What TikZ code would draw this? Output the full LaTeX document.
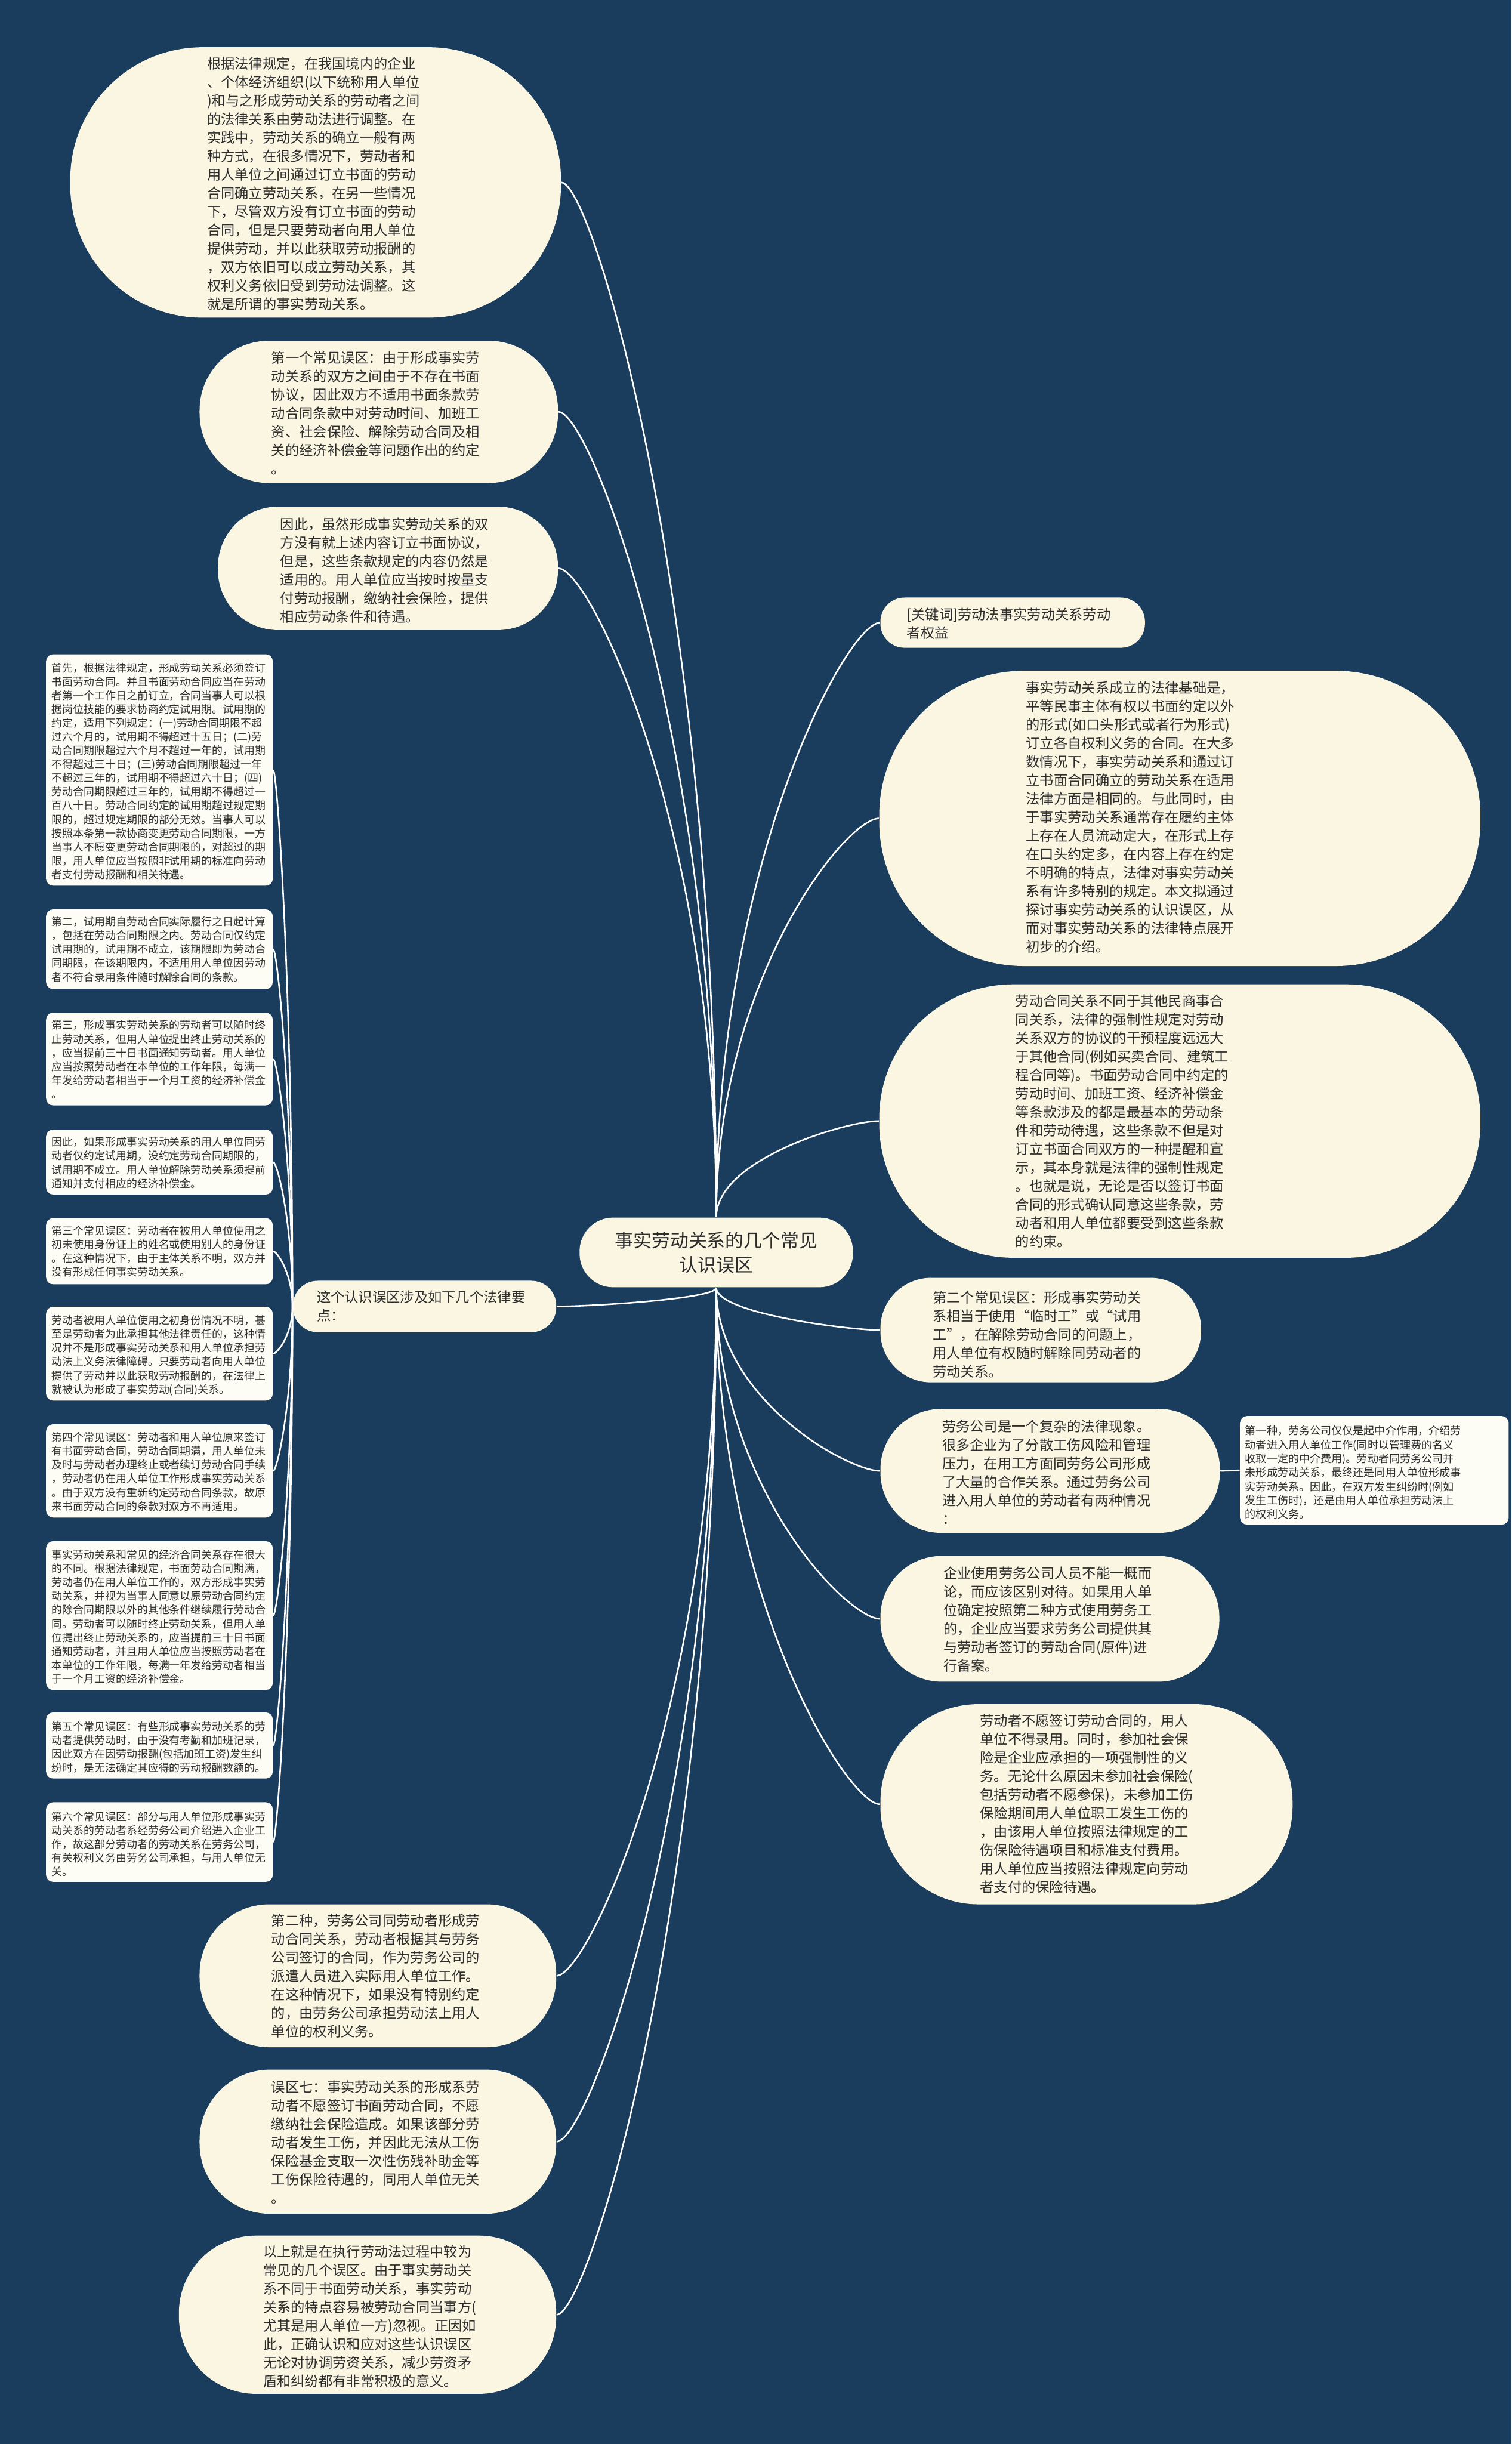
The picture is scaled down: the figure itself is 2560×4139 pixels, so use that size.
\documentclass[tikz,border=0pt]{standalone}
\usepackage{fontspec}
\newfontfamily\cjk{Noto Sans CJK SC}
\usetikzlibrary{calc}
\definecolor{bgc}{RGB}{26,60,93}
\definecolor{creamc}{RGB}{250,246,226}
\definecolor{boxc}{RGB}{253,253,246}
\definecolor{txtc}{RGB}{45,45,45}
\newcommand\myconn[2]{\draw[conn] let \p1=(#1), \p2=(#2) in (\p1) .. controls (\x1,{\y1+0.6*(\y2-\y1)}) and ({\x2+0.2*(\x1-\x2)},\y2) .. (\p2);}
\newcommand\cshape[6]{\node[creamnode, minimum width={#4*0.01cm}, minimum height={#5*0.01cm}, rounded corners={#6*0.01cm}] (#1) at (#2,#3) {};}
\newcommand\wshape[5]{\node[wbox, minimum width={#4*0.01cm}, minimum height={#5*0.01cm}] (#1) at (#2,#3) {};}
\begin{document}
\begin{tikzpicture}[x=0.01cm,y=-0.01cm,
  creamnode/.style={rectangle, fill=creamc, draw=none, inner sep=0pt},
  wbox/.style={rectangle, fill=boxc, draw=none, inner sep=0pt, rounded corners=0.12cm},
  bigtxt/.style={font=\cjk\fontsize{6.69pt}{8.9pt}\selectfont, text=txtc, align=left, inner sep=0pt, anchor=north west},
  smalltxt/.style={font=\cjk\fontsize{5.15pt}{6.63pt}\selectfont, text=txtc, align=left, inner sep=0pt, anchor=north west},
  sidetxt/.style={font=\cjk\fontsize{5.2pt}{6.7pt}\selectfont, text=txtc, align=left, inner sep=0pt, anchor=north west},
  centertxt/.style={font=\cjk\fontsize{8.88pt}{11.95pt}\selectfont, text=txtc, align=center, inner sep=0pt},
  conn/.style={draw=white, line width=0.75pt}]
\fill[bgc] (0,0) rectangle (2560,4139);
\useasboundingbox (0,0) rectangle (2560,4139);

% cream shapes
\cshape{N1}{534.5}{309}{831}{458}{224}
\cshape{N2}{641.5}{697.5}{607}{241}{118}
\cshape{N3}{657}{962.5}{576}{209}{102}
\cshape{L0}{719}{2212.5}{446}{87}{42}
\cshape{C}{1213}{2121}{463}{118}{57}
\cshape{R0}{1715}{1054.5}{448}{85}{41}
\cshape{R1}{1998}{1386}{1018}{500}{245}
\cshape{R2}{1998}{1898.5}{1018}{463}{227}
\cshape{R3}{1762.5}{2252.5}{543}{177}{86}
\cshape{R4}{1778.5}{2491}{575}{210}{103}
\cshape{R5}{1778}{2741.5}{574}{213}{104}
\cshape{R6}{1840}{3055.5}{698}{339}{166}
\cshape{L1}{640}{3346}{604}{242}{118}
\cshape{L2}{640}{3627}{604}{244}{119}
\cshape{L3}{622.5}{3920}{639}{268}{131}

% white boxes
\wshape{B1}{270}{1304}{384}{392}
\wshape{B2}{270}{1607.5}{384}{135}
\wshape{B3}{270}{1793.5}{384}{157}
\wshape{B4}{270}{1968}{384}{110}
\wshape{B5}{270}{2119}{384}{112}
\wshape{B6}{270}{2292.5}{384}{159}
\wshape{B7}{270}{2491}{384}{158}
\wshape{B8}{270}{2736}{384}{252}
\wshape{B9}{270}{2956}{384}{112}
\wshape{B10}{270}{3119.5}{384}{135}
\wshape{R4a}{2327.5}{2490}{455}{184}

% connectors
\myconn{C.north}{N1.east}
\myconn{C.north}{N2.east}
\myconn{C.north}{N3.east}
\myconn{C.north}{R0.west}
\myconn{C.north}{R1.west}
\myconn{C.north}{R2.west}
\myconn{C.south}{L0.east}
\myconn{C.south}{R3.west}
\myconn{C.south}{R4.west}
\myconn{C.south}{R5.west}
\myconn{C.south}{R6.west}
\myconn{C.south}{L1.east}
\myconn{C.south}{L2.east}
\myconn{C.south}{L3.east}
\foreach \b in {B1,B2,B3,B4,B5,B6,B7,B8,B9,B10}{\myconn{L0.west}{\b.east}}
\draw[conn] (R4.east) -- (R4a.west);

% texts
\node[centertxt] (tC) at (C.center) {事实劳动关系的几个常见\\认识误区};

\node[bigtxt] (tN1) at (350,96) {根据法律规定，在我国境内的企业\\、个体经济组织(以下统称用人单位\\)和与之形成劳动关系的劳动者之间\\的法律关系由劳动法进行调整。在\\实践中，劳动关系的确立一般有两\\种方式，在很多情况下，劳动者和\\用人单位之间通过订立书面的劳动\\合同确立劳动关系，在另一些情况\\下，尽管双方没有订立书面的劳动\\合同，但是只要劳动者向用人单位\\提供劳动，并以此获取劳动报酬的\\，双方依旧可以成立劳动关系，其\\权利义务依旧受到劳动法调整。这\\就是所谓的事实劳动关系。};

\node[bigtxt] (tN2) at (459,594) {第一个常见误区：由于形成事实劳\\动关系的双方之间由于不存在书面\\协议，因此双方不适用书面条款劳\\动合同条款中对劳动时间、加班工\\资、社会保险、解除劳动合同及相\\关的经济补偿金等问题作出的约定\\。};

\node[bigtxt] (tN3) at (474,876) {因此，虽然形成事实劳动关系的双\\方没有就上述内容订立书面协议，\\但是，这些条款规定的内容仍然是\\适用的。用人单位应当按时按量支\\付劳动报酬，缴纳社会保险，提供\\相应劳动条件和待遇。};

\node[bigtxt] (tL0) at (536,2185) {这个认识误区涉及如下几个法律要\\点：};

\node[smalltxt] (tB1) at (87,1122) {首先，根据法律规定，形成劳动关系必须签订\\书面劳动合同。并且书面劳动合同应当在劳动\\者第一个工作日之前订立，合同当事人可以根\\据岗位技能的要求协商约定试用期。试用期的\\约定，适用下列规定：(一)劳动合同期限不超\\过六个月的，试用期不得超过十五日；(二)劳\\动合同期限超过六个月不超过一年的，试用期\\不得超过三十日；(三)劳动合同期限超过一年\\不超过三年的，试用期不得超过六十日；(四)\\劳动合同期限超过三年的，试用期不得超过一\\百八十日。劳动合同约定的试用期超过规定期\\限的，超过规定期限的部分无效。当事人可以\\按照本条第一款协商变更劳动合同期限，一方\\当事人不愿变更劳动合同期限的，对超过的期\\限，用人单位应当按照非试用期的标准向劳动\\者支付劳动报酬和相关待遇。};

\node[smalltxt] (tB2) at (87,1552) {第二，试用期自劳动合同实际履行之日起计算\\，包括在劳动合同期限之内。劳动合同仅约定\\试用期的，试用期不成立，该期限即为劳动合\\同期限，在该期限内，不适用用人单位因劳动\\者不符合录用条件随时解除合同的条款。};

\node[smalltxt] (tB3) at (87,1727) {第三，形成事实劳动关系的劳动者可以随时终\\止劳动关系，但用人单位提出终止劳动关系的\\，应当提前三十日书面通知劳动者。用人单位\\应当按照劳动者在本单位的工作年限，每满一\\年发给劳动者相当于一个月工资的经济补偿金\\。};

\node[smalltxt] (tB4) at (87,1925) {因此，如果形成事实劳动关系的用人单位同劳\\动者仅约定试用期，没约定劳动合同期限的，\\试用期不成立。用人单位解除劳动关系须提前\\通知并支付相应的经济补偿金。};

\node[smalltxt] (tB5) at (87,2075) {第三个常见误区：劳动者在被用人单位使用之\\初未使用身份证上的姓名或使用别人的身份证\\。在这种情况下，由于主体关系不明，双方并\\没有形成任何事实劳动关系。};

\node[smalltxt] (tB6) at (87,2227) {劳动者被用人单位使用之初身份情况不明，甚\\至是劳动者为此承担其他法律责任的，这种情\\况并不是形成事实劳动关系和用人单位承担劳\\动法上义务法律障碍。只要劳动者向用人单位\\提供了劳动并以此获取劳动报酬的，在法律上\\就被认为形成了事实劳动(合同)关系。};

\node[smalltxt] (tB7) at (87,2425) {第四个常见误区：劳动者和用人单位原来签订\\有书面劳动合同，劳动合同期满，用人单位未\\及时与劳动者办理终止或者续订劳动合同手续\\，劳动者仍在用人单位工作形成事实劳动关系\\。由于双方没有重新约定劳动合同条款，故原\\来书面劳动合同的条款对双方不再适用。};

\node[smalltxt] (tB8) at (87,2624) {事实劳动关系和常见的经济合同关系存在很大\\的不同。根据法律规定，书面劳动合同期满，\\劳动者仍在用人单位工作的，双方形成事实劳\\动关系，并视为当事人同意以原劳动合同约定\\的除合同期限以外的其他条件继续履行劳动合\\同。劳动者可以随时终止劳动关系，但用人单\\位提出终止劳动关系的，应当提前三十日书面\\通知劳动者，并且用人单位应当按照劳动者在\\本单位的工作年限，每满一年发给劳动者相当\\于一个月工资的经济补偿金。};

\node[smalltxt] (tB9) at (87,2915) {第五个常见误区：有些形成事实劳动关系的劳\\动者提供劳动时，由于没有考勤和加班记录，\\因此双方在因劳动报酬(包括加班工资)发生纠\\纷时，是无法确定其应得的劳动报酬数额的。};

\node[smalltxt] (tB10) at (87,3067) {第六个常见误区：部分与用人单位形成事实劳\\动关系的劳动者系经劳务公司介绍进入企业工\\作，故这部分劳动者的劳动关系在劳务公司，\\有关权利义务由劳务公司承担，与用人单位无\\关。};

\node[bigtxt] (tR0) at (1535,1029) {[关键词]劳动法事实劳动关系劳动\\者权益};

\node[bigtxt] (tR1) at (1737,1153) {事实劳动关系成立的法律基础是，\\平等民事主体有权以书面约定以外\\的形式(如口头形式或者行为形式)\\订立各自权利义务的合同。在大多\\数情况下，事实劳动关系和通过订\\立书面合同确立的劳动关系在适用\\法律方面是相同的。与此同时，由\\于事实劳动关系通常存在履约主体\\上存在人员流动定大，在形式上存\\在口头约定多，在内容上存在约定\\不明确的特点，法律对事实劳动关\\系有许多特别的规定。本文拟通过\\探讨事实劳动关系的认识误区，从\\而对事实劳动关系的法律特点展开\\初步的介绍。};

\node[bigtxt] (tR2) at (1719,1684) {劳动合同关系不同于其他民商事合\\同关系，法律的强制性规定对劳动\\关系双方的协议的干预程度远远大\\于其他合同(例如买卖合同、建筑工\\程合同等)。书面劳动合同中约定的\\劳动时间、加班工资、经济补偿金\\等条款涉及的都是最基本的劳动条\\件和劳动待遇，这些条款不但是对\\订立书面合同双方的一种提醒和宣\\示，其本身就是法律的强制性规定\\。也就是说，无论是否以签订书面\\合同的形式确认同意这些条款，劳\\动者和用人单位都要受到这些条款\\的约束。};

\node[bigtxt] (tR3) at (1579,2186) {第二个常见误区：形成事实劳动关\\系相当于使用“临时工”或“试用\\工”，在解除劳动合同的问题上，\\用人单位有权随时解除同劳动者的\\劳动关系。};

\node[bigtxt] (tR4) at (1595,2404) {劳务公司是一个复杂的法律现象。\\很多企业为了分散工伤风险和管理\\压力，在用工方面同劳务公司形成\\了大量的合作关系。通过劳务公司\\进入用人单位的劳动者有两种情况\\：};

\node[sidetxt] (tR4a) at (2108,2414) {第一种，劳务公司仅仅是起中介作用，介绍劳\\动者进入用人单位工作(同时以管理费的名义\\收取一定的中介费用)。劳动者同劳务公司并\\未形成劳动关系，最终还是同用人单位形成事\\实劳动关系。因此，在双方发生纠纷时(例如\\发生工伤时)，还是由用人单位承担劳动法上\\的权利义务。};

\node[bigtxt] (tR5) at (1597,2653) {企业使用劳务公司人员不能一概而\\论，而应该区别对待。如果用人单\\位确定按照第二种方式使用劳务工\\的，企业应当要求劳务公司提供其\\与劳动者签订的劳动合同(原件)进\\行备案。};

\node[bigtxt] (tR6) at (1659,2902) {劳动者不愿签订劳动合同的，用人\\单位不得录用。同时，参加社会保\\险是企业应承担的一项强制性的义\\务。无论什么原因未参加社会保险(\\包括劳动者不愿参保)，未参加工伤\\保险期间用人单位职工发生工伤的\\，由该用人单位按照法律规定的工\\伤保险待遇项目和标准支付费用。\\用人单位应当按照法律规定向劳动\\者支付的保险待遇。};

\node[bigtxt] (tL1) at (459,3241) {第二种，劳务公司同劳动者形成劳\\动合同关系，劳动者根据其与劳务\\公司签订的合同，作为劳务公司的\\派遣人员进入实际用人单位工作。\\在这种情况下，如果没有特别约定\\的，由劳务公司承担劳动法上用人\\单位的权利义务。};

\node[bigtxt] (tL2) at (459,3523) {误区七：事实劳动关系的形成系劳\\动者不愿签订书面劳动合同，不愿\\缴纳社会保险造成。如果该部分劳\\动者发生工伤，并因此无法从工伤\\保险基金支取一次性伤残补助金等\\工伤保险待遇的，同用人单位无关\\。};

\node[bigtxt] (tL3) at (445,3802) {以上就是在执行劳动法过程中较为\\常见的几个误区。由于事实劳动关\\系不同于书面劳动关系，事实劳动\\关系的特点容易被劳动合同当事方(\\尤其是用人单位一方)忽视。正因如\\此，正确认识和应对这些认识误区\\无论对协调劳资关系，减少劳资矛\\盾和纠纷都有非常积极的意义。};
\end{tikzpicture}
\end{document}
